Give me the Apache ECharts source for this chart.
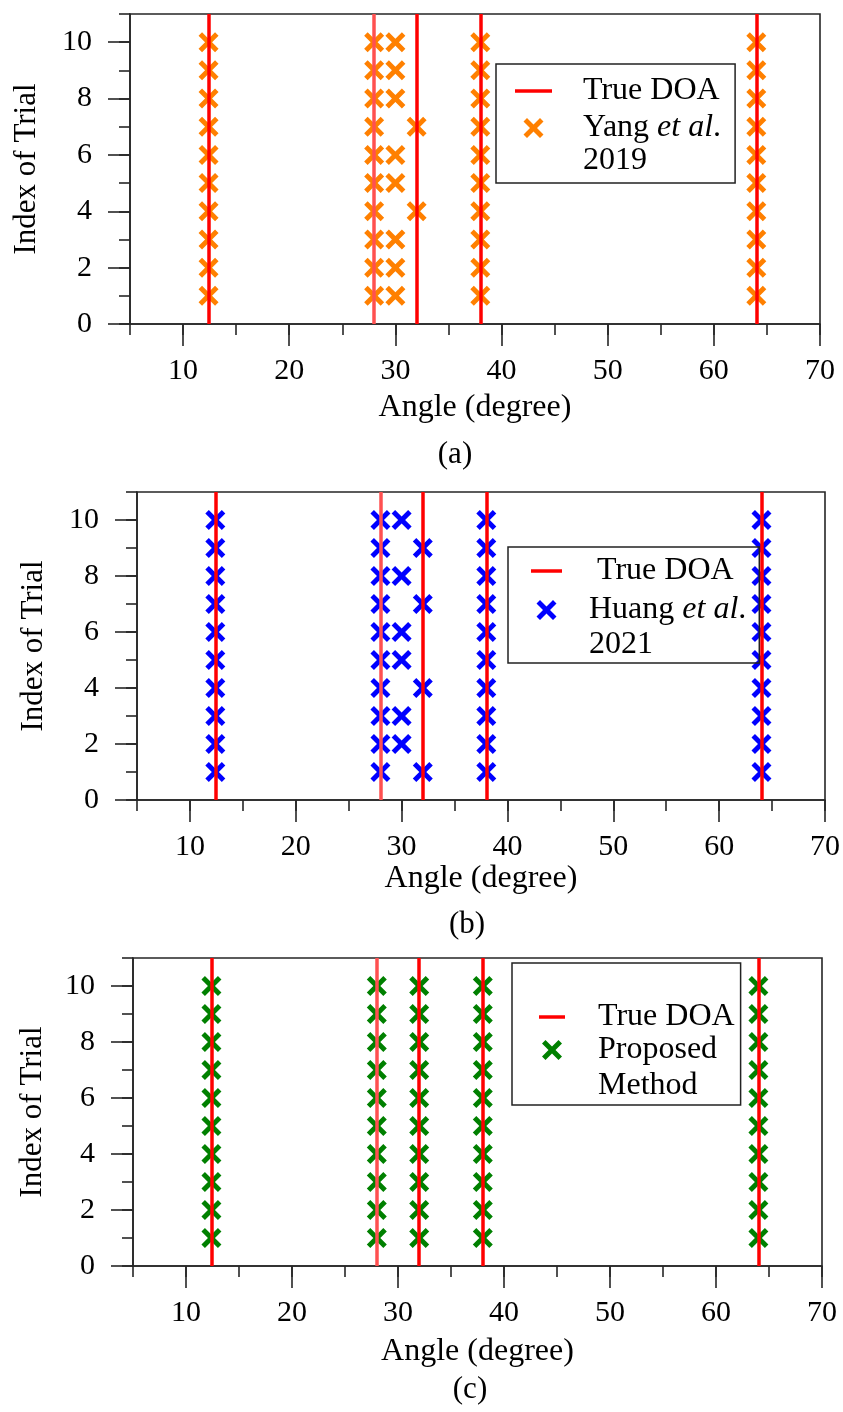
<!DOCTYPE html>
<html><head><meta charset="utf-8">
<script src="https://cdn.jsdelivr.net/npm/echarts@6/dist/echarts.min.js"></script>
<style>html,body{margin:0;padding:0;background:#fff}#c{width:843px;height:1412px}</style>
</head><body><div id="c"></div>
<script>
// ---------- data ----------
const doaAngles = [12.4, 28, 32, 38, 64];
const trialIndex = [1, 2, 3, 4, 5, 6, 7, 8, 9, 10];
// estimated angles per trial (trial 1 .. 10)
const yangEstimates = [
  [12.4, 28, 30, 38, 64],
  [12.4, 28, 30, 38, 64],
  [12.4, 28, 30, 38, 64],
  [12.4, 28, 32, 38, 64],
  [12.4, 28, 30, 38, 64],
  [12.4, 28, 30, 38, 64],
  [12.4, 28, 32, 38, 64],
  [12.4, 28, 30, 38, 64],
  [12.4, 28, 30, 38, 64],
  [12.4, 28, 30, 38, 64]
];
const huangEstimates = [
  [12.4, 28, 32, 38, 64],
  [12.4, 28, 30, 38, 64],
  [12.4, 28, 30, 38, 64],
  [12.4, 28, 32, 38, 64],
  [12.4, 28, 30, 38, 64],
  [12.4, 28, 30, 38, 64],
  [12.4, 28, 32, 38, 64],
  [12.4, 28, 30, 38, 64],
  [12.4, 28, 32, 38, 64],
  [12.4, 28, 30, 38, 64]
];
const proposedEstimates = [
  [12.4, 28, 32, 38, 64],
  [12.4, 28, 32, 38, 64],
  [12.4, 28, 32, 38, 64],
  [12.4, 28, 32, 38, 64],
  [12.4, 28, 32, 38, 64],
  [12.4, 28, 32, 38, 64],
  [12.4, 28, 32, 38, 64],
  [12.4, 28, 32, 38, 64],
  [12.4, 28, 32, 38, 64],
  [12.4, 28, 32, 38, 64]
];
const methodNames = ['Yang et al. 2019', 'Huang et al. 2021', 'Proposed Method'];
const trueName = 'True DOA';
const xTickValues = [10, 20, 30, 40, 50, 60, 70];
const yTickValues = [0, 2, 4, 6, 8, 10];
const panelCaptions = ['(a)', '(b)', '(c)'];
const xAxisTitle = 'Angle (degree)';
const yAxisTitle = 'Index of Trial';

// ---------- styling ----------
const FONT = 'Liberation Serif';
const AX = '#262626';
const methodColors = ['#FF8000', '#0000FF', '#008000'];
const X_PATH = 'path://M0,3.5 L3.5,0 L10,6.5 L16.5,0 L20,3.5 L13.5,10 L20,16.5 L16.5,20 L10,13.5 L3.5,20 L0,16.5 L6.5,10 Z';
function lineIcon(w) { return 'path://M0,0H' + w + 'V3.5H0Z'; }

const panels = [
  {grid: {left: 130, top: 14, width: 690, height: 310}, est: yangEstimates, nameGapX: 68, nameGapY: 88,
   legend: {left: 496, top: 64, iw: 37, L: 33, gap: -28, pad: [11, 14, 6, 19], tp: 26, tExtra: 0},
   cap: [455, 455]},
  {grid: {left: 137, top: 492, width: 688, height: 308}, est: huangEstimates, nameGapX: 63, nameGapY: 88,
   legend: {left: 508, top: 547, iw: 31, L: 35, gap: -28, pad: [8, 13, 2, 23], tp: 22, tExtra: 8},
   cap: [467, 925]},
  {grid: {left: 133, top: 958, width: 689, height: 308}, est: proposedEstimates, nameGapX: 70, nameGapY: 85,
   legend: {left: 512, top: 963, iw: 26, L: 36, gap: -35, pad: [35, 6, 3, 27], tp: 28, tExtra: 0},
   cap: [470, 1390]}
];

function richFor(L, tExtra) {
  const base = {fontFamily: FONT, fontSize: 32, lineHeight: L, color: '#000'};
  return {
    n: base,
    i: Object.assign({}, base, {fontStyle: 'italic'}),
    e: base,
    t: Object.assign({}, base, {padding: [0, 0, 0, tExtra]})
  };
}
function legendText(name) {
  if (name === trueName) return '{t|True DOA}';
  if (name === methodNames[0]) return '{e| }\n{n|Yang }{i|et al}{n|.}\n{n|2019}';
  if (name === methodNames[1]) return '{e| }\n{n|Huang }{i|et al}{n|.}\n{n|2021}';
  return '{e| }\n{n|Proposed}\n{n|Method}';
}

const grids = [], xAxes = [], yAxes = [], series = [], legends = [], graphics = [];
const tickLine = {color: AX, width: 1.6};

panels.forEach((p, k) => {
  grids.push(Object.assign({show: true, borderColor: AX, borderWidth: 1.6, backgroundColor: 'transparent'}, p.grid));
});
panels.forEach((p, k) => {
  grids.push(Object.assign({show: false}, p.grid)); // minor-tick overlay
});

panels.forEach((p, k) => {
  xAxes.push({
    type: 'value', gridIndex: k, min: 5, max: 70, interval: 5,
    axisLine: {show: true, onZero: false, lineStyle: tickLine},
    axisTick: {show: true, customValues: xTickValues, length: 22, inside: false, lineStyle: tickLine},
    axisLabel: {show: true, customValues: xTickValues, margin: 32, fontFamily: FONT, fontSize: 30, color: '#000'},
    splitLine: {show: false},
    name: xAxisTitle, nameLocation: 'middle', nameGap: p.nameGapX,
    nameTextStyle: {fontFamily: FONT, fontSize: 32, color: '#000'}
  });
  yAxes.push({
    type: 'value', gridIndex: k, min: 0, max: 11, interval: 1,
    axisLine: {show: true, onZero: false, lineStyle: tickLine},
    axisTick: {show: true, customValues: yTickValues, length: 22, inside: false, lineStyle: tickLine},
    axisLabel: {show: true, customValues: yTickValues, margin: 38, fontFamily: FONT, fontSize: 30, color: '#000'},
    splitLine: {show: false},
    name: yAxisTitle, nameLocation: 'middle', nameGap: p.nameGapY,
    nameTextStyle: {fontFamily: FONT, fontSize: 31, color: '#000'}
  });
});
panels.forEach((p, k) => {
  xAxes.push({
    type: 'value', gridIndex: k + 3, min: 5, max: 70, interval: 5,
    axisLine: {show: false, onZero: false},
    axisTick: {show: true, length: 11, inside: false, lineStyle: tickLine},
    axisLabel: {show: false}, splitLine: {show: false}
  });
  yAxes.push({
    type: 'value', gridIndex: k + 3, min: 0, max: 11, interval: 1,
    axisLine: {show: false, onZero: false},
    axisTick: {show: true, length: 11, inside: false, lineStyle: tickLine},
    axisLabel: {show: false}, splitLine: {show: false}
  });
});

panels.forEach((p, k) => {
  const pts = [];
  trialIndex.forEach((t, i) => { p.est[i].forEach(a => pts.push([a, t])); });
  series.push({
    name: methodNames[k], type: 'scatter', xAxisIndex: k, yAxisIndex: k,
    symbol: X_PATH, symbolSize: 20, z: 2,
    itemStyle: {color: methodColors[k], opacity: 1},
    emphasis: {disabled: true},
    data: pts
  });
  series.push({
    name: trueName, type: 'line', xAxisIndex: k, yAxisIndex: k, z: 3,
    itemStyle: {color: '#FF0000'}, lineStyle: {color: '#FF0000'},
    data: [],
    markLine: {
      silent: true, symbol: ['none', 'none'], label: {show: false},
      emphasis: {disabled: true},
      lineStyle: {color: '#FF0000', width: 3.5, type: 'solid'},
      data: doaAngles.map((a, i) => i === 1 ? {xAxis: a, lineStyle: {color: '#FF5050'}} : {xAxis: a})
    }
  });
  const lg = p.legend;
  legends.push({
    show: true, orient: 'vertical', left: lg.left, top: lg.top,
    itemWidth: lg.iw, itemHeight: 20, itemGap: lg.gap, padding: lg.pad,
    borderColor: '#222', borderWidth: 1.5, borderRadius: 0, selectedMode: false,
    itemStyle: {borderWidth: 0}, lineStyle: {width: 0},
    data: [{name: trueName, icon: lineIcon(lg.iw)}, {name: methodNames[k], icon: X_PATH}],
    formatter: legendText,
    textStyle: {fontFamily: FONT, fontSize: 32, color: '#000', padding: [0, 0, 0, lg.tp], rich: richFor(lg.L, lg.tExtra)}
  });
  graphics.push({
    type: 'text', x: p.cap[0], y: p.cap[1],
    style: {text: panelCaptions[k], font: '31px "Liberation Serif"', fill: '#000', align: 'center', verticalAlign: 'middle'}
  });
});

const chart = echarts.init(document.getElementById('c'), null, {renderer: 'canvas'});
chart.setOption({
  animation: false,
  backgroundColor: '#fff',
  grid: grids, xAxis: xAxes, yAxis: yAxes, series: series, legend: legends, graphic: graphics
});
</script></body></html>
